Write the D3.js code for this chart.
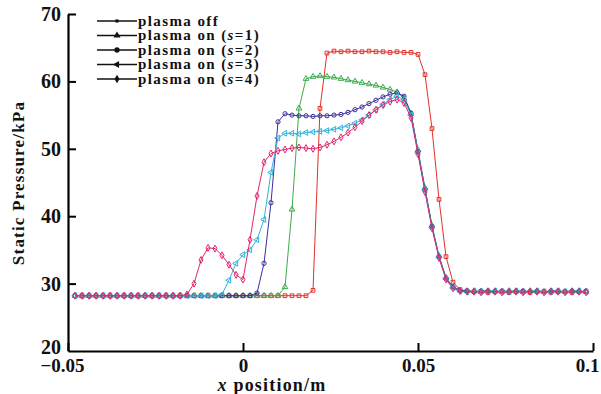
<!DOCTYPE html>
<html>
<head>
<meta charset="utf-8">
<script src="https://cdn.jsdelivr.net/npm/d3@7/dist/d3.min.js"></script>
<style>
  body { margin: 0; background: #fff; }
  text { font-family: "Liberation Serif", "DejaVu Serif", serif; font-weight: bold; }
</style>
</head>
<body>
<div id="chart"></div>
<script>
// x positions (m), shared by all series
var xPos = [
  -0.048,-0.046,-0.044,-0.042,-0.040,-0.038,-0.036,-0.034,-0.032,-0.030,
  -0.028,-0.026,-0.024,-0.022,-0.020,-0.018,-0.016,-0.014,-0.012,-0.010,
  -0.008,-0.006,-0.004,-0.002,0.000,0.002,0.004,0.006,0.008,0.010,
  0.012,0.014,0.016,0.018,0.020,0.022,0.024,0.026,0.028,0.030,
  0.032,0.034,0.036,0.038,0.040,0.042,0.044,0.046,0.048,0.050,
  0.052,0.054,0.056,0.058,0.060,0.062,0.064,0.066,0.068,0.070,
  0.072,0.074,0.076,0.078,0.080,0.082,0.084,0.086,0.088,0.090,
  0.092,0.094,0.096,0.098
];

// static pressure (kPa)
var pOff = [
  28.2,28.2,28.2,28.2,28.2,28.2,28.2,28.2,28.2,28.2,
  28.2,28.2,28.2,28.2,28.2,28.2,28.2,28.2,28.2,28.2,
  28.2,28.2,28.2,28.2,28.2,28.2,28.2,28.2,28.2,28.2,
  28.2,28.2,28.2,28.2,29.0,56.0,64.2,64.5,64.4,64.5,
  64.4,64.4,64.5,64.4,64.4,64.3,64.4,64.3,64.3,64.0,
  61.0,53.0,42.5,34.0,30.2,29.1,28.9,28.8,28.8,28.7,
  28.8,28.8,28.7,28.8,28.8,28.7,28.8,28.8,28.7,28.8,
  28.8,28.7,28.8,28.8
];
var pS1 = [
  28.2,28.2,28.2,28.2,28.2,28.2,28.2,28.2,28.2,28.2,
  28.2,28.2,28.2,28.2,28.2,28.2,28.2,28.2,28.2,28.2,
  28.2,28.2,28.2,28.2,28.2,28.2,28.2,28.2,28.2,28.2,
  29.5,41.0,56.0,60.4,60.7,60.8,60.7,60.6,60.4,60.2,
  60.0,59.8,59.6,59.4,59.1,58.8,58.4,57.5,55.2,49.8,
  44.2,38.6,34.1,30.9,29.5,29.0,28.9,28.9,28.8,28.9,
  28.9,28.8,28.9,28.9,28.8,28.9,28.9,28.8,28.9,28.9,
  28.8,28.9,28.9,28.8
];
var pS2 = [
  28.2,28.2,28.2,28.2,28.2,28.2,28.2,28.2,28.2,28.2,
  28.2,28.2,28.2,28.2,28.2,28.2,28.2,28.2,28.2,28.2,
  28.2,28.2,28.2,28.2,28.2,28.2,28.6,33.0,42.0,54.0,
  55.2,55.0,54.9,54.9,54.8,54.9,54.9,55.0,55.1,55.4,
  55.8,56.2,56.7,57.2,57.7,58.1,58.3,57.8,55.3,49.6,
  44.0,38.5,34.0,30.8,29.5,29.0,28.9,28.8,28.9,28.9,
  28.8,28.9,28.8,28.9,28.9,28.8,28.9,28.8,28.9,28.9,
  28.8,28.9,28.8,28.9
];
var pS3 = [
  28.2,28.2,28.2,28.2,28.2,28.2,28.2,28.2,28.2,28.2,
  28.2,28.2,28.2,28.2,28.2,28.2,28.2,28.2,28.2,28.2,
  28.2,28.4,30.5,33.0,34.3,35.0,36.5,39.5,46.5,51.6,
  52.3,52.3,52.2,52.4,52.5,52.6,52.7,52.9,53.1,53.4,
  53.8,54.3,55.0,55.8,56.6,57.3,57.8,57.3,55.0,49.4,
  43.8,38.3,33.9,30.7,29.4,28.9,28.8,28.9,28.8,28.8,
  28.9,28.8,28.8,28.9,28.8,28.8,28.9,28.8,28.8,28.9,
  28.8,28.8,28.9,28.8
];
var pS4 = [
  28.2,28.2,28.2,28.2,28.2,28.2,28.2,28.2,28.2,28.2,
  28.2,28.2,28.2,28.2,28.2,28.2,28.4,30.0,33.5,35.3,
  35.2,34.2,32.8,31.3,30.6,36.5,43.0,48.0,49.3,49.7,
  49.9,50.1,50.2,50.1,50.0,50.2,50.6,51.1,51.7,52.4,
  53.2,54.1,55.0,55.8,56.5,57.0,57.3,56.8,54.6,49.2,
  43.6,38.2,33.8,30.6,29.3,28.9,28.8,28.8,28.7,28.8,
  28.8,28.7,28.8,28.8,28.7,28.8,28.8,28.7,28.8,28.8,
  28.7,28.8,28.8,28.7
];

var seriesNames = ["plasma off", "plasma on (s=1)", "plasma on (s=2)", "plasma on (s=3)", "plasma on (s=4)"];
var xTicks = [-0.05, 0, 0.05, 0.1];
var yTicks = [20, 30, 40, 50, 60, 70];

var width = 601, height = 394;
var margin = { top: 14, right: 8, bottom: 43, left: 68 };

var colors = ["#e4312b", "#3bab4a", "#3a2f9e", "#2fb4dc", "#e5236f"];
var symbolTypes = [d3.symbolSquare, d3.symbolTriangle, d3.symbolCircle, d3.symbolTriangle, d3.symbolDiamond];
var symbolRotate = [0, 0, 0, -90, 0];

var series = [pOff, pS1, pS2, pS3, pS4].map(function (vals, i) {
    if (vals.length !== xPos.length) throw new Error("length mismatch in series " + i + ": " + vals.length);
    return { name: seriesNames[i], values: vals.map(function (v, j) { return { x: xPos[j], y: v }; }) };
});

var svg = d3.select("#chart").append("svg")
    .attr("width", width)
    .attr("height", height);

var x = d3.scaleLinear().domain([-0.05, 0.1]).range([margin.left, width - margin.right]);
var y = d3.scaleLinear().domain([20, 70]).range([height - margin.bottom, margin.top]);

var line = d3.line().x(d => x(d.x)).y(d => y(d.y));

// series
var g = svg.append("g");
series.forEach(function (s, i) {
    g.append("path")
        .datum(s.values)
        .attr("fill", "none")
        .attr("stroke", colors[i])
        .attr("stroke-width", 1)
        .attr("d", line);

    g.append("g").selectAll("path")
        .data(s.values)
        .join("path")
        .attr("transform", d => `translate(${x(d.x)},${y(d.y)}) rotate(${symbolRotate[i]})`)
        .attr("d", d3.symbol().type(symbolTypes[i]).size(14)())
        .attr("fill", "none")
        .attr("stroke", colors[i])
        .attr("stroke-width", 1);
});

// axes
var xAxis = svg.append("g")
    .attr("transform", `translate(0,${height - margin.bottom})`)
    .call(d3.axisBottom(x).tickValues(xTicks).tickSizeInner(-8).tickSizeOuter(0).tickPadding(8));
xAxis.select(".domain").attr("stroke-width", 2.2);
xAxis.selectAll(".tick line").attr("stroke-width", 2);
xAxis.selectAll(".tick text")
    .attr("font-size", 19)
    .attr("fill", "#111")
    .attr("dy", "0.7em")
    .attr("text-anchor", d => d === 0.1 ? "end" : "middle")
    .attr("x", d => d === 0.1 ? 6 : (d < 0 ? -6 : 0))
    .text(d => d === 0 ? "0" : (d < 0 ? "\u2212" + Math.abs(d) : String(d)));

var yAxis = svg.append("g")
    .attr("transform", `translate(${margin.left},0)`)
    .call(d3.axisLeft(y).tickValues(yTicks).tickSizeInner(-8).tickSizeOuter(0).tickPadding(7));
yAxis.select(".domain").attr("stroke-width", 2.2);
yAxis.selectAll(".tick line").attr("stroke-width", 2);
yAxis.selectAll(".tick text")
    .attr("font-size", 20)
    .attr("fill", "#111");
yAxis.selectAll(".tick").filter(d => d === 20).select("line").remove();
yAxis.selectAll(".tick").filter(d => d === 20).select("text").attr("dy", "0.1em");

// axis titles
var xTitle = svg.append("text")
    .attr("x", 272)
    .attr("y", 391)
    .attr("text-anchor", "middle")
    .attr("font-size", 18)
    .attr("letter-spacing", 1.2)
    .attr("fill", "#111");
xTitle.append("tspan").attr("font-style", "italic").text("x");
xTitle.append("tspan").text(" position/m");

svg.append("text")
    .attr("transform", "translate(24,183) rotate(-90)")
    .attr("text-anchor", "middle")
    .attr("font-size", 17)
    .attr("letter-spacing", 1.2)
    .attr("fill", "#111")
    .text("Static Pressure/kPa");

// legend
var legend = svg.append("g").attr("transform", "translate(97,21)");
seriesNames.forEach(function (name, i) {
    var row = legend.append("g").attr("transform", `translate(0,${i * 14.5})`);
    row.append("line")
        .attr("x1", 0).attr("x2", 40)
        .attr("stroke", "#111").attr("stroke-width", 1.5);
    row.append("path")
        .attr("transform", `translate(20,0) rotate(${symbolRotate[i]})`)
        .attr("d", d3.symbol().type(symbolTypes[i]).size(i === 0 ? 10 : 22)())
        .attr("fill", "#111");
    var t = row.append("text")
        .attr("x", 41)
        .attr("dy", "0.32em")
        .attr("font-size", 15)
        .attr("letter-spacing", 1.4)
        .attr("fill", "#111");
    if (i === 0) {
        t.text(name);
    } else {
        t.append("tspan").text("plasma on (");
        t.append("tspan").attr("font-style", "italic").text("s");
        t.append("tspan").text(name.slice(name.indexOf("s=") + 1));
    }
});
</script>
</body>
</html>
